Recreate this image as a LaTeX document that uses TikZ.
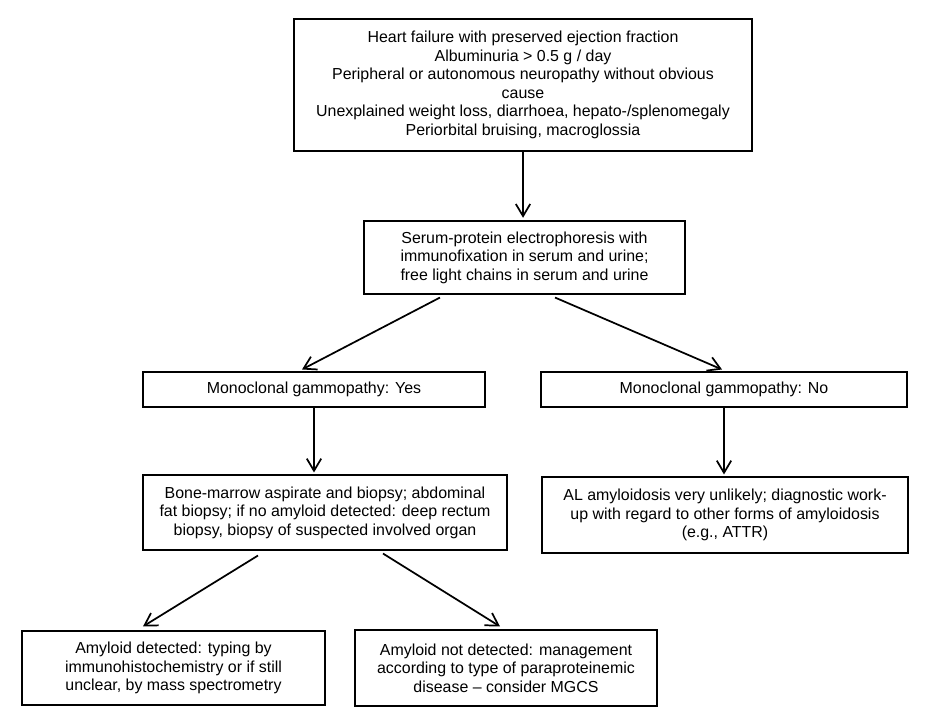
\documentclass[tikz,border=0pt]{standalone}
\usepackage{fontspec}
\setmainfont{Liberation Sans}
\usetikzlibrary{arrows.meta}
\begin{document}
\begin{tikzpicture}
    [
        x=0.75pt, y=-0.75pt,
        box/.style={draw, line width=0.8pt, align=center, inner sep=2pt,
            font=\fontsize{11.95}{13.9}\selectfont},
        edge/.style={-{Straight Barb[length=3.2mm,width=3.8mm]}, line width=1.3pt,},
    ]
    \useasboundingbox [fill=white] (0,0) rectangle (948,726);

    % screening
    \node (sym) at (523,85)    [box, minimum width=343.5pt, minimum height=99pt]
        {Heart failure with preserved ejection fraction\\
         Albuminuria > 0.5 g / day\\
         Peripheral or autonomous neuropathy without obvious\\
         cause\\
         Unexplained weight loss, diarrhoea, hepato-/splenomegaly\\
         Periorbital bruising, macroglossia};
    \node (ser) at (524.5,257.5) [box, minimum width=240.75pt, minimum height=54.75pt]
        {Serum-protein electrophoresis with\\
         immunofixation in serum and urine;\\
         free light chains in serum and urine};

    % gammopathy
    \node (yes) at (314,389.5) [box, minimum width=256.5pt, minimum height=26.25pt]
        {Monoclonal gammopathy: Yes};
    \node (no)  at (724,389.5) [box, minimum width=274.5pt, minimum height=26.25pt]
        {Monoclonal gammopathy: No};
    \node (bio) at (325,512.5) [box, minimum width=273pt, minimum height=56.25pt]
        {Bone-marrow aspirate and biopsy; abdominal\\
         fat biopsy; if no amyloid detected: deep rectum\\
         biopsy, biopsy of suspected involved organ};
    \node (al)  at (725,515)   [box, minimum width=274.5pt, minimum height=57pt]
        {AL amyloidosis very unlikely; diagnostic work-\\
         up with regard to other forms of amyloidosis\\
         (e.g., ATTR)};

    % biopsy result
    \node (det)   at (173.5,668) [box, minimum width=227.25pt, minimum height=55.5pt]
        {Amyloid detected: typing by\\
         immunohistochemistry or if still\\
         unclear, by mass spectrometry};
    \node (nodet) at (506,668)   [box, minimum width=226.5pt, minimum height=57pt]
        {Amyloid not detected: management\\
         according to type of paraproteinemic\\
         disease -- consider MGCS};

    \draw [edge] (sym.south) -- ([xshift=-1.1pt,yshift=2pt]ser.north);
    \draw [edge] ([xshift=-63.4pt,yshift=-2.25pt]ser.south) -- ([xshift=-9pt,yshift=1.5pt]yes.north);
    \draw [edge] ([xshift=22.9pt,yshift=-2.25pt]ser.south) -- ([xshift=-1.5pt,yshift=1.5pt]no.north);
    \draw [edge] (yes.south) -- ([xshift=-8.25pt,yshift=1.5pt]bio.north);
    \draw [edge] (no.south) -- ([xshift=-0.75pt,yshift=1.5pt]al.north);
    \draw [edge] ([xshift=-50.25pt,yshift=-3.75pt]bio.south) -- ([xshift=-22.9pt,yshift=3pt]det.north);
    \draw [edge] ([xshift=43.5pt,yshift=-2.25pt]bio.south) -- ([xshift=-4.5pt,yshift=2.25pt]nodet.north);
\end{tikzpicture}
\end{document}
